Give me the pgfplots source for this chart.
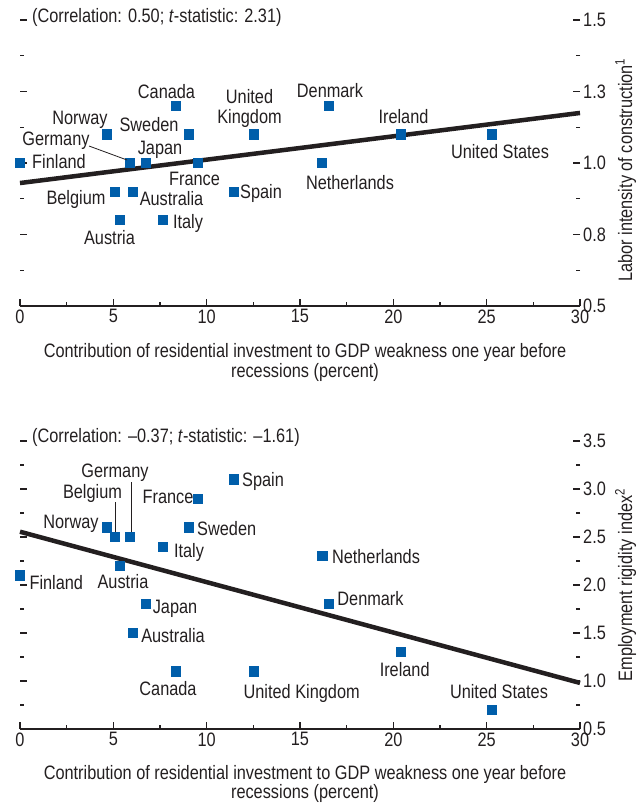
\documentclass[border=0pt]{standalone}
\usepackage{fontspec}
\setmainfont{Liberation Sans}[FakeStretch=0.84]
\usepackage{pgfplots}
\pgfplotsset{compat=1.18}
\definecolor{markblue}{RGB}{0,94,170}
\definecolor{ink}{RGB}{35,31,32}
\newcommand{\lbl}{\fontsize{19.5}{21}\selectfont}

\pgfplotsset{
  panel/.style={
    scale only axis, width=560bp,
    xmin=0, xmax=30, clip=false,
    axis line style={draw=none},
    xtick={0,5,...,30}, minor xtick={2.5,7.5,...,27.5},
    xtick pos=bottom, ytick pos=both, yticklabel pos=right,
    tick align=inside,
    major tick length=7bp, minor tick length=4bp,
    every tick/.append style={line width=1.2bp, ink},
    tick label style={font=\lbl, text=ink},
    yticklabel style={inner xsep=3bp},
    /pgf/number format/assume math mode=true,
  },
  dots/.style={only marks, mark=square*, mark size=4.6bp,
    mark options={draw=markblue, fill=markblue, line width=0pt}},
  fit/.style={line width=4.5bp, ink, no marks},
}

\begin{document}
\begin{tikzpicture}
\useasboundingbox (0,0) rectangle (643bp,-803bp);

% Upper panel: labor intensity of construction
\begin{axis}[panel, at={(20bp,-306bp)}, anchor=south west, height=286bp,
  ymin=0.5, ymax=1.5,
  ytick={0.5,0.75,1.0,1.25,1.5}, yticklabels={0.5,0.8,1.0,1.3,1.5},
  minor ytick={0.625,0.875,1.125,1.375}]
  \draw[ink, line width=1.6bp] (rel axis cs:0,0) -- (rel axis cs:1,0);
  \addplot[fit] coordinates {(0,0.930) (30,1.175)};
  \addplot[dots] coordinates {
    (0,1.0) (4.66,1.1) (5.89,1.0) (6.75,1.0) (8.36,1.2) (9.05,1.1)
    (9.53,1.0) (12.53,1.1) (16.55,1.2) (16.18,1.0) (20.4,1.1) (25.3,1.1)
    (5.09,0.9) (6.05,0.9) (11.46,0.9) (5.36,0.8) (7.66,0.8)};
\end{axis}

% Lower panel: employment rigidity index
\begin{axis}[panel, at={(20bp,-729bp)}, anchor=south west, height=288bp,
  ymin=0.5, ymax=3.5,
  ytick={0.5,1.0,...,3.5}, yticklabels={0.5,1.0,1.5,2.0,2.5,3.0,3.5},
  minor ytick={0.75,1.25,...,3.25}]
  \draw[ink, line width=1.6bp] (rel axis cs:0,0) -- (rel axis cs:1,0);
  \addplot[fit] coordinates {(0,2.555) (30,0.98)};
  \addplot[dots] coordinates {
    (0,2.1) (4.64,2.6) (5.09,2.5) (5.89,2.5) (9.52,2.9) (11.48,3.1)
    (9.05,2.6) (7.66,2.4) (5.36,2.2) (6.73,1.8) (16.2,2.3) (16.55,1.8)
    (6.05,1.5) (8.34,1.1) (12.53,1.1) (20.39,1.3) (25.3,0.7)};
\end{axis}

\begin{scope}[x=1bp, y=-1bp,
  every node/.style={font=\lbl, text=ink, inner sep=0pt, anchor=base}]
  % upper panel texts
  \node[anchor=base west] at (32,22) {(Correlation: 0.50; \textit{t}-statistic: 2.31)};
  \node at (59,168) {Finland};
  \node at (80,124) {Norway};
  \node at (56,145) {Germany};
  \draw[ink, line width=0.8bp] (89,146) -- (127,160);
  \node at (166.5,98) {Canada};
  \node at (149,131) {Sweden};
  \node at (160,154) {Japan};
  \node at (249.5,103) {United};
  \node at (249.5,123) {Kingdom};
  \node at (330,97) {Denmark};
  \node at (403.5,123) {Ireland};
  \node at (500,158) {United States};
  \node at (194.5,185) {France};
  \node at (350,189) {Netherlands};
  \node at (76,204) {Belgium};
  \node at (171.5,205) {Australia};
  \node at (261,198) {Spain};
  \node at (188,228) {Italy};
  \node at (109.5,244) {Austria};
  \node at (305,357) {Contribution of residential investment to GDP weakness one year before};
  \node at (305,377) {recessions (percent)};
  \node[rotate=90] at (632,170) {Labor intensity of construction\textsuperscript{1}};

  % lower panel texts
  \node[anchor=base west] at (32,442) {(Correlation: --0.37; \textit{t}-statistic: --1.61)};
  \node at (115,477) {Germany};
  \draw[ink, line width=0.8bp] (131,482) -- (131,532);
  \node at (92.5,498) {Belgium};
  \draw[ink, line width=0.8bp] (115.7,502) -- (115.7,532);
  \node at (168,503) {France};
  \node at (263,486) {Spain};
  \node at (71,528) {Norway};
  \node at (226.7,535) {Sweden};
  \node at (189,557) {Italy};
  \node at (123,588) {Austria};
  \node at (56.3,589) {Finland};
  \node at (175,613) {Japan};
  \node at (376,563) {Netherlands};
  \node at (370.5,605) {Denmark};
  \node at (173,642) {Australia};
  \node at (168,695) {Canada};
  \node at (301.7,698) {United Kingdom};
  \node at (404.7,676) {Ireland};
  \node at (499,698) {United States};
  \node at (305,779) {Contribution of residential investment to GDP weakness one year before};
  \node at (305,798) {recessions (percent)};
  \node[rotate=90] at (632,585) {Employment rigidity index\textsuperscript{2}};
\end{scope}
\end{tikzpicture}
\end{document}
